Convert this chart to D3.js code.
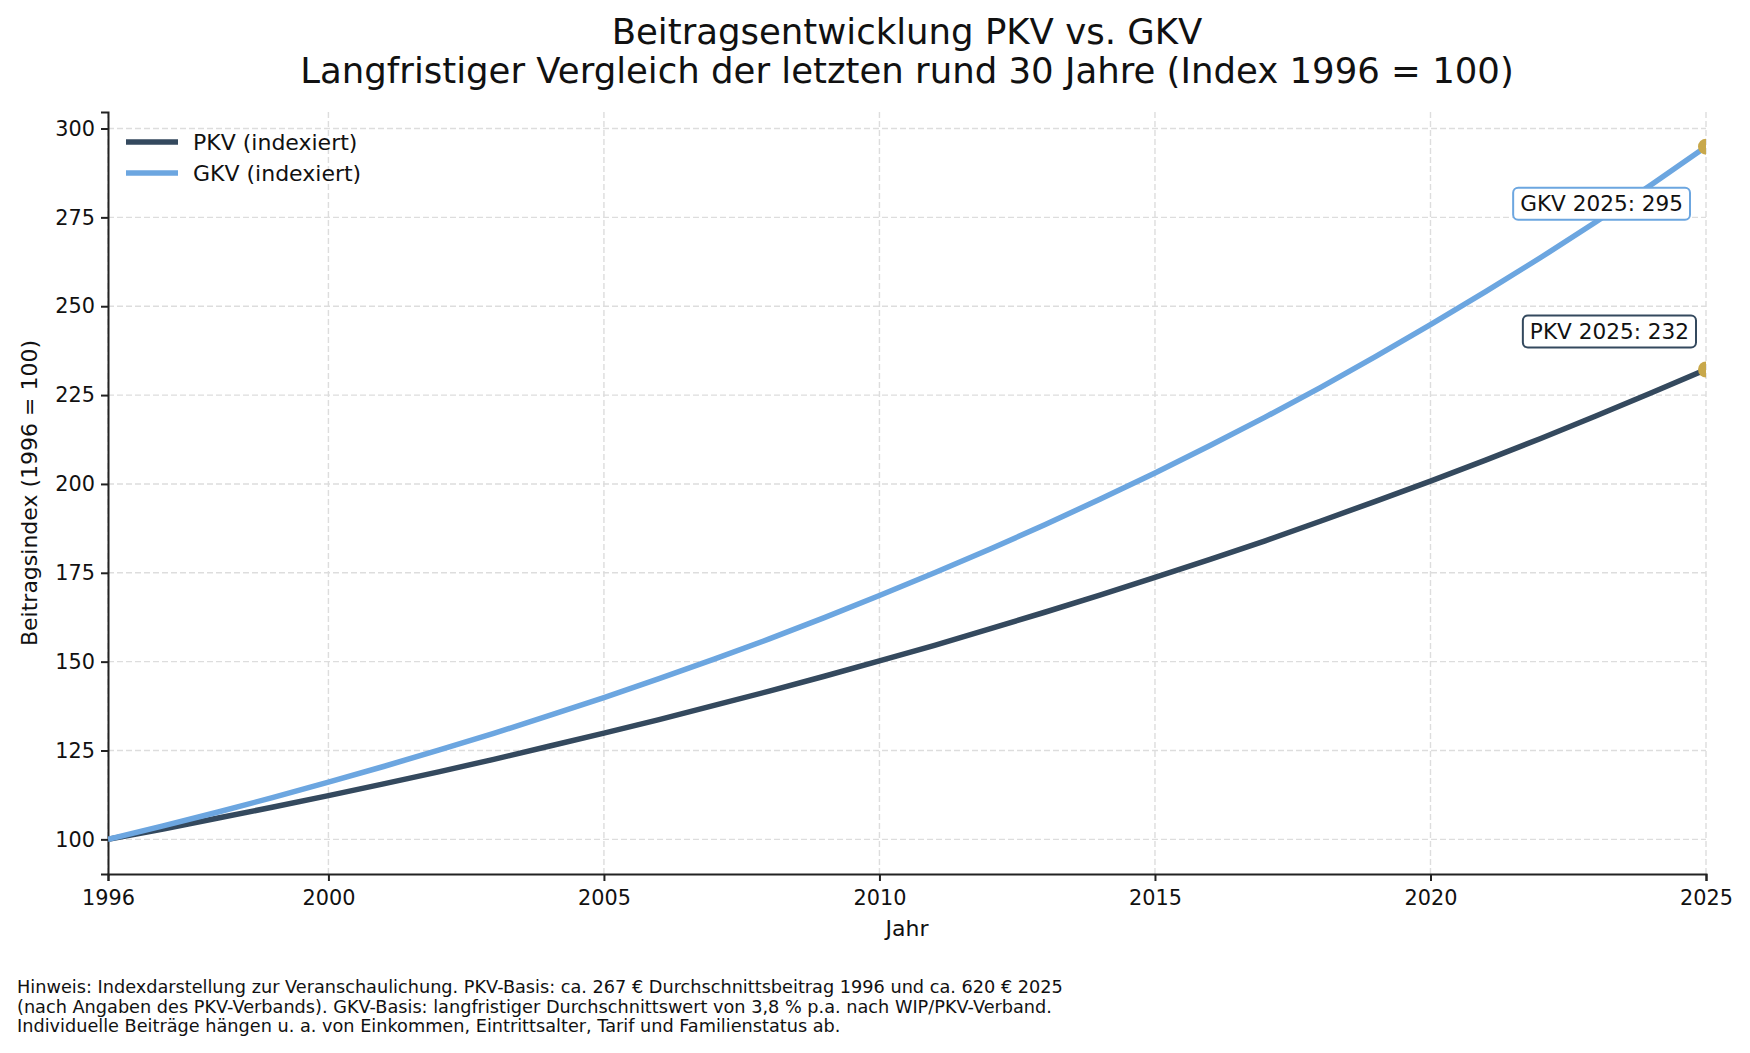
<!DOCTYPE html>
<html>
<head>
<meta charset="utf-8">
<script src="https://cdn.jsdelivr.net/npm/d3@7"></script>
<style>
  body { margin: 0; background: #fff; }
  svg { display: block; font-family: "DejaVu Sans", sans-serif; }
</style>
</head>
<body>
<svg id="chart" width="1750" height="1053"></svg>
<script>
// data (index 1996 = 100)
const years = d3.range(1996, 2026);
const pkvValues = [100, 102.9, 106.0, 109.1, 112.3, 115.6, 119.0, 122.5, 126.2, 129.9,
  133.7, 137.7, 141.7, 145.9, 150.2, 154.6, 159.2, 163.9, 168.7, 173.7,
  178.8, 184.0, 189.5, 195.1, 200.8, 206.7, 212.8, 219.1, 225.6, 232.2];
const gkvValues = [100, 103.8, 107.7, 111.8, 116.1, 120.5, 125.1, 129.8, 134.8, 139.9,
  145.2, 150.7, 156.4, 162.4, 168.6, 175.0, 181.6, 188.5, 195.7, 203.1,
  210.8, 218.8, 227.1, 235.8, 244.8, 254.1, 263.7, 273.7, 284.1, 294.9];
const xTicks = [1996, 2000, 2005, 2010, 2015, 2020, 2025];
const yTicks = [100, 125, 150, 175, 200, 225, 250, 275, 300];
const seriesNames = ["PKV (indexiert)", "GKV (indexiert)"];
const endLabels = ["PKV 2025: 232", "GKV 2025: 295"];
const titleLines = ["Beitragsentwicklung PKV vs. GKV",
  "Langfristiger Vergleich der letzten rund 30 Jahre (Index 1996 = 100)"];
const footnoteLines = [
  "Hinweis: Indexdarstellung zur Veranschaulichung. PKV-Basis: ca. 267 € Durchschnittsbeitrag 1996 und ca. 620 € 2025",
  "(nach Angaben des PKV-Verbands). GKV-Basis: langfristiger Durchschnittswert von 3,8 % p.a. nach WIP/PKV-Verband.",
  "Individuelle Beiträge hängen u. a. von Einkommen, Eintrittsalter, Tarif und Familienstatus ab."
];

const colors = { pkv: "#34495e", gkv: "#6ca6e0", dot: "#c8a84b", grid: "#dddddd", text: "#111" };
const margin = { top: 112, right: 44, bottom: 179, left: 108 };
const width = 1750, height = 1053;
const innerW = width - margin.left - margin.right;
const innerH = height - margin.top - margin.bottom;

const svg = d3.select("#chart");

const allVals = pkvValues.concat(gkvValues);
const yMin = d3.min(allVals), yMax = d3.max(allVals);
const pad = (yMax - yMin) * 0.05;

const x = d3.scaleLinear().domain([1996, 2025]).range([0, innerW]);
const y = d3.scaleLinear().domain([yMin - pad, yMax + pad]).range([innerH, 0]);

// title, centred over the plot area
svg.append("g").selectAll("text")
  .data(titleLines)
  .join("text")
  .attr("x", margin.left + innerW / 2)
  .attr("y", (d, i) => 44 + i * 39)
  .attr("text-anchor", "middle")
  .style("font-size", "35.5px")
  .style("fill", colors.text)
  .text(d => d);

const g = svg.append("g").attr("transform", `translate(${margin.left},${margin.top})`);

svg.append("defs").append("clipPath").attr("id", "plotclip")
  .append("rect").attr("width", innerW).attr("height", innerH);

// grid
g.append("g").selectAll("line")
  .data(yTicks)
  .join("line")
  .attr("x1", 0).attr("x2", innerW)
  .attr("y1", d => y(d)).attr("y2", d => y(d))
  .attr("stroke", colors.grid).attr("stroke-width", 1.4)
  .attr("stroke-dasharray", "6,3");
g.append("g").selectAll("line")
  .data(xTicks)
  .join("line")
  .attr("x1", d => x(d)).attr("x2", d => x(d))
  .attr("y1", 0).attr("y2", innerH)
  .attr("stroke", colors.grid).attr("stroke-width", 1.4)
  .attr("stroke-dasharray", "6,3");

// axes
const xAxis = g.append("g")
  .attr("transform", `translate(0,${innerH})`)
  .call(d3.axisBottom(x).tickValues(xTicks).tickFormat(d3.format("d")).tickSize(7).tickPadding(6));
const yAxis = g.append("g")
  .call(d3.axisLeft(y).tickValues(yTicks).tickSize(7).tickPadding(6));
[xAxis, yAxis].forEach(ax => {
  ax.select(".domain").attr("stroke", "#222").attr("stroke-width", 2);
  ax.selectAll(".tick line").attr("stroke", "#222").attr("stroke-width", 2);
  ax.selectAll(".tick text").style("font-size", "20.8px").style("fill", colors.text)
    .style("font-family", "DejaVu Sans");
});
xAxis.selectAll(".tick text").attr("dy", "0.85em");

// axis labels
svg.append("text")
  .attr("x", margin.left + innerW / 2)
  .attr("y", 936)
  .attr("text-anchor", "middle")
  .style("font-size", "22px")
  .style("fill", colors.text)
  .text("Jahr");
svg.append("text")
  .attr("transform", `translate(37,${margin.top + innerH / 2}) rotate(-90)`)
  .attr("text-anchor", "middle")
  .style("font-size", "22px")
  .style("fill", colors.text)
  .text("Beitragsindex (1996 = 100)");

// lines
const line = d3.line().x((d, i) => x(years[i])).y(d => y(d));
const plot = g.append("g").attr("clip-path", "url(#plotclip)");
plot.append("path").datum(pkvValues)
  .attr("d", line).attr("fill", "none")
  .attr("stroke", colors.pkv).attr("stroke-width", 5.5).attr("stroke-linecap", "butt");
plot.append("path").datum(gkvValues)
  .attr("d", line).attr("fill", "none")
  .attr("stroke", colors.gkv).attr("stroke-width", 5.5).attr("stroke-linecap", "butt");

// end points
const last = years.length - 1;
const ends = [
  { v: pkvValues[last], c: colors.pkv, label: endLabels[0], dx: -9, dy: -38 },
  { v: gkvValues[last], c: colors.gkv, label: endLabels[1], dx: -15, dy: 57 }
];
plot.selectAll("circle")
  .data(ends)
  .join("circle")
  .attr("cx", x(years[last]))
  .attr("cy", d => y(d.v))
  .attr("r", 8)
  .attr("fill", colors.dot);

// annotation boxes
ends.forEach(d => {
  const ag = g.append("g")
    .attr("transform", `translate(${x(years[last]) + d.dx},${y(d.v) + d.dy})`);
  const t = ag.append("text")
    .attr("text-anchor", "end")
    .attr("dy", "0.35em")
    .attr("x", -8)
    .style("font-size", "21.6px")
    .style("fill", colors.text)
    .text(d.label);
  const bb = t.node().getBBox();
  ag.insert("rect", "text")
    .attr("x", bb.x - 7).attr("y", -16)
    .attr("width", bb.width + 14).attr("height", 32)
    .attr("rx", 5)
    .attr("fill", "#fff")
    .attr("stroke", d.c).attr("stroke-width", 2);
});

// legend
const legend = g.append("g").attr("transform", "translate(18,30)");
const legendColors = [colors.pkv, colors.gkv];
seriesNames.forEach((name, i) => {
  const row = legend.append("g").attr("transform", `translate(0,${i * 31})`);
  row.append("line")
    .attr("x1", 0).attr("x2", 52)
    .attr("stroke", legendColors[i]).attr("stroke-width", 5.5);
  row.append("text")
    .attr("x", 67).attr("dy", "0.35em")
    .style("font-size", "22px")
    .style("fill", colors.text)
    .text(name);
});

// footnote
svg.append("g").selectAll("text")
  .data(footnoteLines)
  .join("text")
  .attr("x", 17)
  .attr("y", (d, i) => 993 + i * 19.5)
  .style("font-size", "17.7px")
  .style("fill", colors.text)
  .text(d => d);
</script>
</body>
</html>
